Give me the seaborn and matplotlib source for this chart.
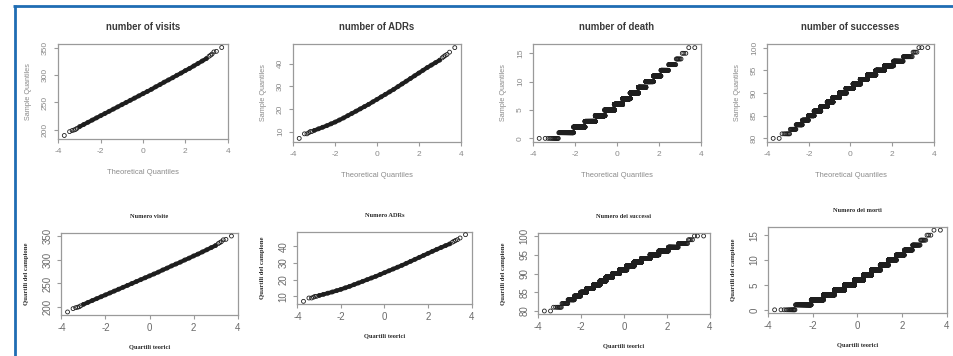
import numpy as np
import pandas as pd
import seaborn as sns
import matplotlib
matplotlib.use("Agg")
import matplotlib.pyplot as plt
from matplotlib.lines import Line2D
from statistics import NormalDist

# ---------------- data ----------------
# continuous series: sample quantiles read at theoretical quantiles
band_z = [-3.0, -2.8, -2.6, -2.4, -2.2, -2.0, -1.8, -1.6, -1.4, -1.2, -1.0,
          -0.8, -0.6, -0.4, -0.2, 0.0, 0.2, 0.4, 0.6, 0.8, 1.0,
          1.2, 1.4, 1.6, 1.8, 2.0, 2.2, 2.4, 2.6, 2.8, 3.0]
tail_z = [-3.72, -3.47, -3.35, -3.26, -3.19, -3.12,
          3.12, 3.19, 3.26, 3.35, 3.47, 3.72]

visits_band = [206, 210, 214, 218, 222, 226, 230, 234, 238, 242, 246,
               250, 254, 258, 262, 266, 270, 274, 278.5, 282.5, 287,
               291, 295, 299.5, 303.5, 308, 312, 316.5, 321, 325.5, 330]
visits_tail = [190, 197, 199, 200, 201, 203, 334, 336, 338, 342, 343, 350]

adrs_band = [10.5, 11.2, 11.9, 12.6, 13.4, 14.2, 15.1, 16.0, 17.0, 18.0, 19.0,
             20.0, 21.0, 22.0, 23.1, 24.2, 25.3, 26.4, 27.5, 28.6, 29.8,
             31.0, 32.2, 33.4, 34.6, 35.8, 37.0, 38.2, 39.3, 40.4, 41.5]
adrs_tail = [7, 9, 9, 9.5, 10, 10, 42.5, 43, 43.5, 44, 45, 47]

# discrete series: value -> number of observations
deaths_values = [0, 1, 2, 3, 4, 5, 6, 7, 8, 9, 10, 11, 12, 13, 14, 15, 16]
deaths_counts = [13, 81, 221, 431, 659, 837, 790, 647, 552, 350, 214, 115, 55, 22, 7, 3, 2]

successes_values = [80, 81, 82, 83, 84, 85, 86, 87, 88, 89, 90,
                    91, 92, 93, 94, 95, 96, 97, 98, 99, 100]
successes_counts = [2, 7, 13, 29, 55, 94, 182, 275, 340, 490, 594,
                    675, 645, 560, 480, 300, 162, 68, 21, 4, 3]

top_titles = ["number of visits", "number of ADRs", "number of death", "number of successes"]
bottom_titles = ["Numero visite", "Numero ADRs", "Numero dei successi", "Numero dei morti"]
x_ticks = [-4, -2, 0, 2, 4]
visits_ticks = [200, 250, 300, 350]
adrs_ticks = [10, 20, 30, 40]
deaths_ticks = [0, 5, 10, 15]
successes_ticks = [80, 85, 90, 95, 100]

# ---------------- style ----------------
sns.set_style("white")
plt.rcParams["font.family"] = ["Liberation Sans", "DejaVu Sans"]
plt.rcParams["axes.unicode_minus"] = False

W, H = 954, 356
fig = plt.figure(figsize=(W / 100, H / 100), dpi=100)
fig.patch.set_facecolor("white")

PT_COLOR = "#1e1e1e"
MS = 8


def qq_discrete(values, counts):
    sample = np.repeat(np.array(values, dtype=float), counts)
    sample.sort()
    n = len(sample)
    nd = NormalDist()
    theo = np.array([nd.inv_cdf((i - 0.5) / n) for i in range(1, n + 1)])
    return pd.DataFrame({"theoretical": theo, "sample": sample})


def draw_continuous(ax, band, tail):
    sns.lineplot(x=band_z, y=band, ax=ax, color=PT_COLOR, linewidth=2.9,
                 errorbar=None, zorder=2)
    df = pd.DataFrame({"theoretical": band_z + tail_z, "sample": band + tail})
    sns.scatterplot(data=df, x="theoretical", y="sample", ax=ax, marker="o",
                    s=MS, facecolor="none", edgecolor=PT_COLOR, linewidth=0.6,
                    legend=False, zorder=3)


def draw_discrete(ax, values, counts):
    df = qq_discrete(values, counts)
    sns.scatterplot(data=df, x="theoretical", y="sample", ax=ax, marker="o",
                    s=MS, facecolor="none", edgecolor=PT_COLOR, linewidth=0.6,
                    legend=False)


def px_axes(x0, y0, x1, y1):
    return fig.add_axes([x0 / W, 1 - y1 / H, (x1 - x0) / W, (y1 - y0) / H])


def style_axes(ax, yticks, top):
    ax.margins(x=0.04, y=0.04)
    ax.set_xticks(x_ticks)
    ax.set_xticklabels([str(t) for t in x_ticks])
    ax.set_yticks(yticks)
    ax.set_yticklabels([str(t) for t in yticks])
    spine_c = "#9a9a9a"
    for s in ax.spines.values():
        s.set_visible(True)
        s.set_color(spine_c)
        s.set_linewidth(0.9)
    tick_c = "#8a8a8a" if top else "#6a6a6a"
    fs = 6.0 if top else 7.0
    ax.tick_params(axis="both", which="both", direction="out", length=3,
                   width=0.8, color=spine_c, labelcolor=tick_c, labelsize=fs,
                   bottom=True, left=True, pad=3.5 if top else 3)
    ax.tick_params(axis="y", labelrotation=90)
    for lab in ax.get_yticklabels():
        lab.set_va("center")
    ax.set_facecolor("white")
    ax.grid(False)


top_boxes = [(58, 44, 228, 139), (293, 44, 461, 142), (533, 44, 701, 142), (767, 44, 934, 142)]
bot_boxes = [(61, 233, 238, 315), (297, 232, 472, 304), (538, 233, 710, 314), (768, 227, 947, 313)]

top_ticks = [visits_ticks, adrs_ticks, deaths_ticks, successes_ticks]
bot_ticks = [visits_ticks, adrs_ticks, successes_ticks, deaths_ticks]

# ---- top row (English) ----
for i, box in enumerate(top_boxes):
    ax = px_axes(*box)
    if i == 0:
        draw_continuous(ax, visits_band, visits_tail)
    elif i == 1:
        draw_continuous(ax, adrs_band, adrs_tail)
    elif i == 2:
        draw_discrete(ax, deaths_values, deaths_counts)
    else:
        draw_discrete(ax, successes_values, successes_counts)
    style_axes(ax, top_ticks[i], True)
    ax.set_title(top_titles[i], fontsize=6.9, fontweight="bold", color="#3a3a3a", pad=10)
    ax.set_xlabel("Theoretical Quantiles", fontsize=5.4, color="#8a8a8a", labelpad=10)
    ax.set_ylabel("Sample Quantiles", fontsize=5.2, color="#8a8a8a", labelpad=7)

# ---- bottom row (Italian) ----
serif = ["Liberation Serif", "DejaVu Serif"]
for i, box in enumerate(bot_boxes):
    ax = px_axes(*box)
    if i == 0:
        draw_continuous(ax, visits_band, visits_tail)
    elif i == 1:
        draw_continuous(ax, adrs_band, adrs_tail)
    elif i == 2:
        draw_discrete(ax, successes_values, successes_counts)
    else:
        draw_discrete(ax, deaths_values, deaths_counts)
    style_axes(ax, bot_ticks[i], False)
    ax.set_title(bottom_titles[i], fontsize=4.6, color="#2a2a2a", pad=11,
                 family=serif, fontweight="bold")
    ax.set_xlabel("Quartili teorici", fontsize=4.6, color="#2a2a2a", labelpad=8,
                  family=serif, fontweight="bold")
    ax.set_ylabel("Quartili del campione", fontsize=4.8, color="#2a2a2a", labelpad=10,
                  family=serif, fontweight="bold")

# ---- blue frame ----
blue = "#1f6db3"
fig.add_artist(Line2D([14.7 / W, 14.7 / W], [0, 1 - 5.0 / H], transform=fig.transFigure,
                      color=blue, linewidth=2.0, solid_capstyle="butt"))
fig.add_artist(Line2D([13.3 / W, 1], [1 - 6.3 / H, 1 - 6.3 / H], transform=fig.transFigure,
                      color=blue, linewidth=2.0, solid_capstyle="butt"))

fig.savefig("out.png", dpi=100, facecolor="white")
